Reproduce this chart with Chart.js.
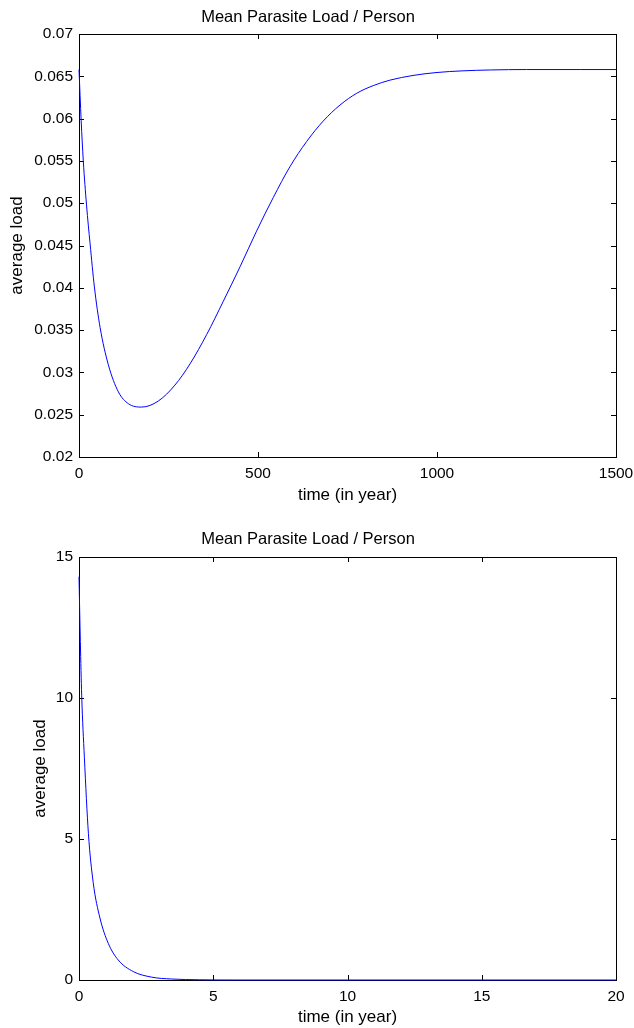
<!DOCTYPE html>
<html lang="en">
<head>
    <meta charset="UTF-8">
    <title>Mean Parasite Load / Person</title>
    <style>
body {
    margin: 0;
    padding: 0;
    background-color: #fff;
}
canvas {
    display: block;
}
    </style>
</head>
<body>
    <canvas id="chartLong" width="634" height="510"></canvas>
    <canvas id="chartShort" width="634" height="518"></canvas>

    <script src="https://cdn.jsdelivr.net/npm/chart.js"></script>
    <script>
        // top panel: 0..1500 years
        const timeLong = [0, 6, 12, 21, 31, 43, 59, 82, 110, 138, 175, 221, 268, 310, 357, 403, 450, 496, 543, 589, 636, 682, 729, 776, 822, 869, 933, 1000, 1070, 1150, 1250, 1400, 1500];
        const loadLong = [0.0658, 0.0598, 0.0550, 0.0498, 0.0452, 0.0401, 0.0353, 0.0309, 0.0277, 0.0263, 0.0259, 0.0266, 0.0285, 0.0310, 0.0345, 0.0384, 0.0425, 0.0467, 0.0507, 0.0543, 0.0573, 0.0597, 0.0616, 0.0630, 0.0639, 0.06455, 0.0651, 0.06545, 0.06564, 0.06575, 0.0658, 0.0658, 0.0658];
        const xTicksLong = [0, 500, 1000, 1500];
        const yTicksLong = [0.02, 0.025, 0.03, 0.035, 0.04, 0.045, 0.05, 0.055, 0.06, 0.065, 0.07];

        // bottom panel: 0..20 years
        const timeShort = [0, 0.05, 0.1, 0.2, 0.35, 0.53, 0.78, 1.09, 1.46, 2.02, 2.71, 3.45, 4.5, 6, 10, 15, 20];
        const loadShort = [14.3, 12.0, 10.1, 7.9, 5.2, 3.45, 2.2, 1.3, 0.71, 0.3, 0.1, 0.035, 0.008, 0, 0, 0, 0];
        const xTicksShort = [0, 5, 10, 15, 20];
        const yTicksShort = [0, 5, 10, 15];

        const titleText = 'Mean Parasite Load / Person';
        const xLabel = 'time (in year)';
        const yLabel = 'average load';

        const fontFamily = '"Liberation Sans", Arial, Helvetica, sans-serif';

        // MATLAB style box with inward ticks on all four sides, under the curve
        const boxTicks = {
            id: 'boxTicks',
            beforeDatasetsDraw(chart) {
                const { ctx, chartArea: a, scales: { x, y } } = chart;
                const len = 5;
                ctx.save();
                ctx.strokeStyle = '#000';
                ctx.lineWidth = 1;
                ctx.beginPath();
                x.ticks.forEach(t => {
                    const px = Math.round(x.getPixelForValue(t.value)) + 0.5;
                    ctx.moveTo(px, a.bottom); ctx.lineTo(px, a.bottom - len);
                    ctx.moveTo(px, a.top); ctx.lineTo(px, a.top + len);
                });
                y.ticks.forEach(t => {
                    const py = Math.round(y.getPixelForValue(t.value)) + 0.5;
                    ctx.moveTo(a.left, py); ctx.lineTo(a.left + len, py);
                    ctx.moveTo(a.right, py); ctx.lineTo(a.right - len, py);
                });
                ctx.stroke();
                ctx.strokeRect(Math.round(a.left) + 0.5, Math.round(a.top) + 0.5,
                    Math.round(a.right - a.left), Math.round(a.bottom - a.top));
                ctx.restore();
            }
        };

        function makeChart(id, times, loads, xTicks, yTicks, opts) {
            const ctx = document.getElementById(id).getContext('2d');
            return new Chart(ctx, {
                type: 'line',
                data: {
                    datasets: [{
                        data: times.map((t, i) => ({ x: t, y: loads[i] })),
                        borderColor: '#0000ff',
                        borderWidth: 1,
                        pointRadius: 0,
                        fill: false,
                        clip: 3,
                        cubicInterpolationMode: 'monotone'
                    }]
                },
                options: {
                    responsive: false,
                    animation: false,
                    layout: {
                        padding: { left: 0, right: 18, top: 0, bottom: opts.padBottom }
                    },
                    plugins: {
                        legend: { display: false },
                        tooltip: { enabled: false },
                        title: {
                            display: true,
                            text: titleText,
                            color: '#000',
                            font: { family: fontFamily, size: 16.5, weight: 'normal', lineHeight: 1.2 },
                            padding: { top: opts.titleTop, bottom: opts.titleBottom }
                        }
                    },
                    scales: {
                        x: {
                            type: 'linear',
                            min: xTicks[0],
                            max: xTicks[xTicks.length - 1],
                            grid: { display: false, drawTicks: false },
                            border: { display: false },
                            afterBuildTicks: axis => { axis.ticks = xTicks.map(v => ({ value: v })); },
                            afterFit: axis => {
                                axis.height = opts.xHeight;
                                axis.paddingLeft = 0;
                                axis.paddingRight = 0;
                            },
                            ticks: {
                                color: '#000',
                                padding: 7,
                                maxRotation: 0,
                                autoSkip: false,
                                font: { family: fontFamily, size: 15.5 },
                                callback: v => String(v)
                            },
                            title: {
                                display: true,
                                text: xLabel,
                                color: '#000',
                                font: { family: fontFamily, size: 17, lineHeight: 1.2 },
                                padding: 0
                            }
                        },
                        y: {
                            type: 'linear',
                            min: yTicks[0],
                            max: yTicks[yTicks.length - 1],
                            grid: { display: false, drawTicks: false },
                            border: { display: false },
                            afterBuildTicks: axis => { axis.ticks = yTicks.map(v => ({ value: v })); },
                            afterFit: axis => { axis.width = 79; },
                            ticks: {
                                color: '#000',
                                padding: 6,
                                autoSkip: false,
                                font: { family: fontFamily, size: 15.5 },
                                callback: v => String(Number(v.toFixed(4)))
                            },
                            title: {
                                display: true,
                                text: yLabel,
                                color: '#000',
                                font: { family: fontFamily, size: 17, lineHeight: 1.2 },
                                padding: { top: opts.yTitlePad, bottom: 0 }
                            }
                        }
                    }
                },
                plugins: [boxTicks]
            });
        }

        makeChart('chartLong', timeLong, loadLong, xTicksLong, yTicksLong,
            { titleTop: 7.1, titleBottom: 7.1, xHeight: 48.2, padBottom: 4.8, yTitlePad: 7.2 });
        makeChart('chartShort', timeShort, loadShort, xTicksShort, yTicksShort,
            { titleTop: 19.1, titleBottom: 8.1, xHeight: 48, padBottom: 0, yTitlePad: 30 });
    </script>
</body>
</html>
